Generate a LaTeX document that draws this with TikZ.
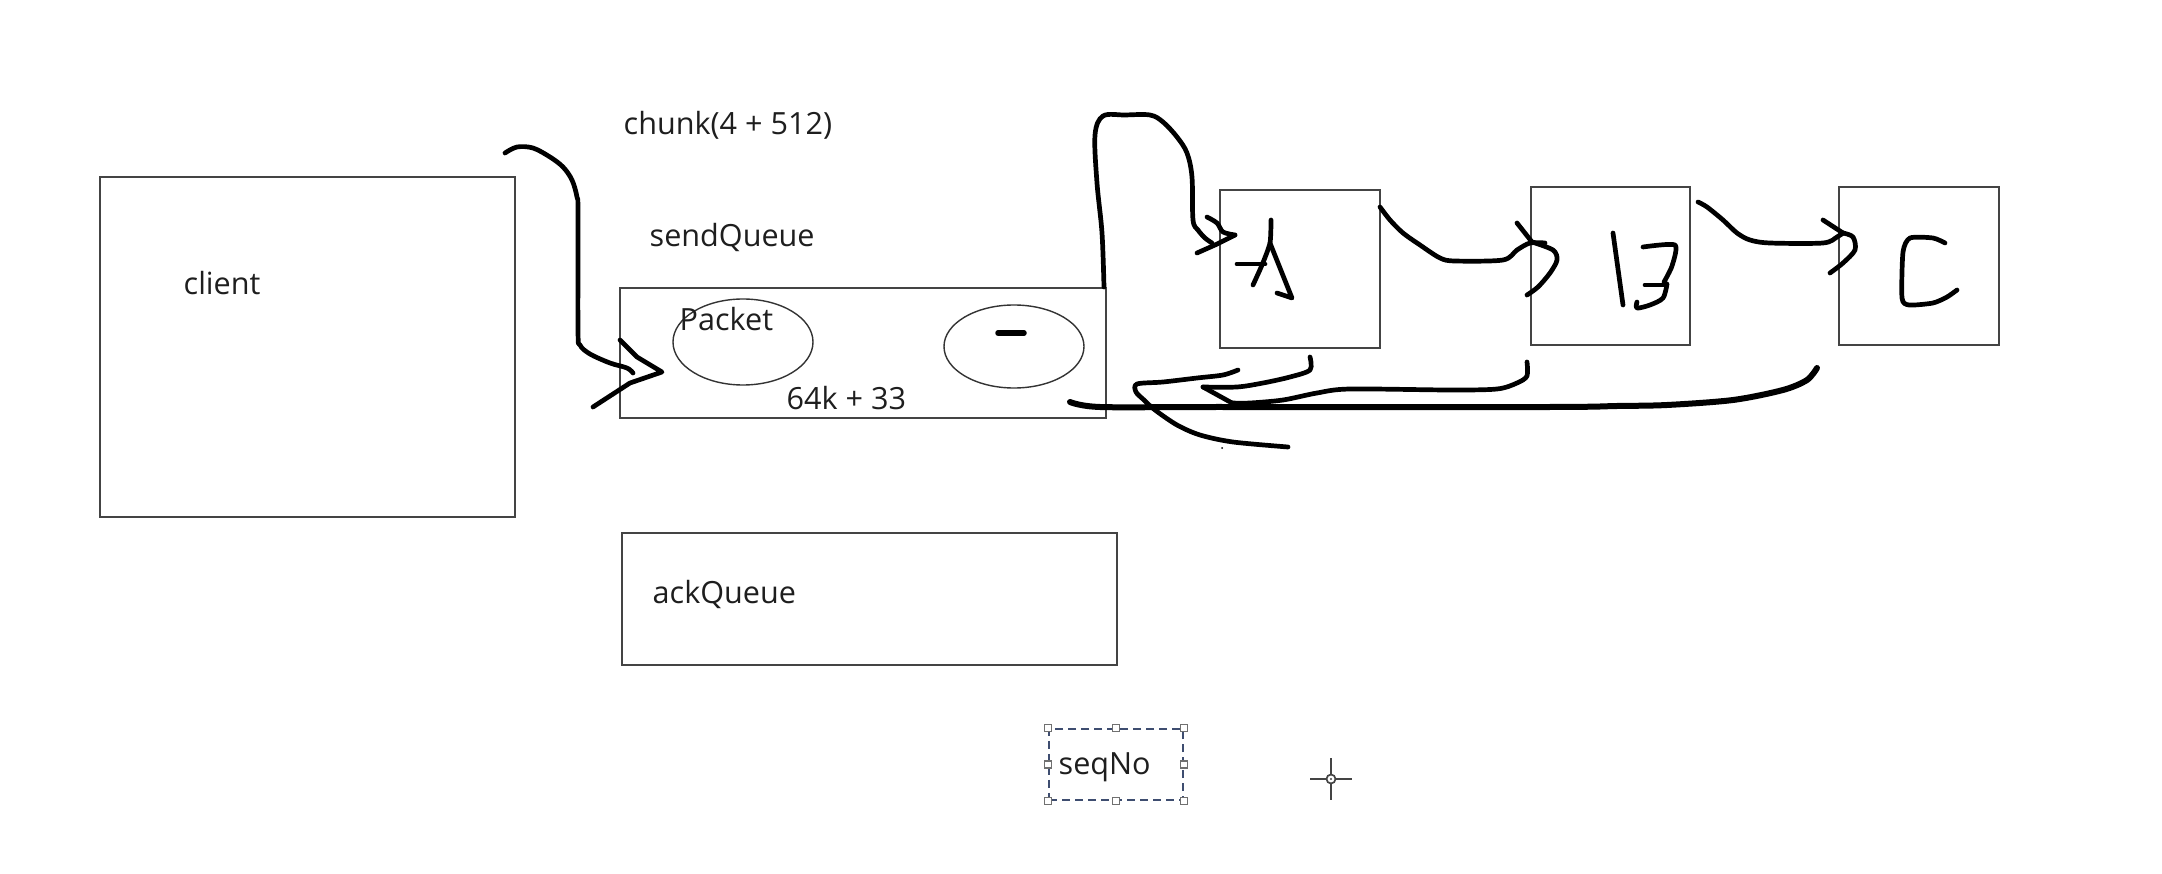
\documentclass[tikz,border=0pt]{standalone}
\usepackage{fontspec}
\setmainfont{Open Sans}
\usetikzlibrary{shapes.geometric}
\definecolor{boxline}{HTML}{444444}
\definecolor{txt}{HTML}{1E1E1E}
\definecolor{selblue}{HTML}{3E4D70}
\definecolor{handlegray}{HTML}{707070}
\tikzset{
  px/.style={x=0.1mm,y=-0.1mm},
  plainbox/.style={draw=boxline,line width=0.2mm,rectangle,inner sep=0pt},
  pktell/.style={draw=black!80,line width=0.14mm,ellipse,inner sep=0pt},
  lbl/.style={anchor=base west,inner sep=0pt,text=txt,font=\fontsize{8.7pt}{10pt}\selectfont},
  hand/.style={line width=0.47mm,line cap=round,line join=round,black},
  handthick/.style={line width=0.6mm,line cap=round,line join=round,black},
  selbox/.style={draw=selblue,line width=0.15mm,dash pattern=on 0.8mm off 0.5mm,rectangle,inner sep=0pt},
  handlesq/.style={draw=handlegray,fill=white,line width=0.12mm,rectangle,minimum size=0.7mm,inner sep=0pt},
}
\begin{document}
\begin{tikzpicture}[px]
\useasboundingbox (0,0) rectangle (2162,874);
\fill[white] (0,0) rectangle (2162,874);

% boxes
\node[plainbox,minimum width=41.5mm,minimum height=34mm] (client) at (307.5,347) {};
\node[plainbox,minimum width=48.6mm,minimum height=13mm] (sendq) at (863,353) {};
\node[plainbox,minimum width=49.5mm,minimum height=13.2mm] (ackq) at (869.5,599) {};
\node[plainbox,minimum width=16mm,minimum height=15.8mm] (boxA) at (1300,269) {};
\node[plainbox,minimum width=15.9mm,minimum height=15.8mm] (boxB) at (1610.5,266) {};
\node[plainbox,minimum width=16mm,minimum height=15.8mm] (boxC) at (1919,266) {};
\node[pktell,minimum width=14mm,minimum height=8.6mm] (pkt1) at (743,342) {};
\node[pktell,minimum width=14mm,minimum height=8.3mm] (pkt2) at (1014,346.5) {};

% texts
\node[lbl] (tclient) at (183,295) {client};
\node[lbl] (tchunk) at (623,135) {chunk(4 + 512)};
\node[lbl] (tsend) at (649,247) {sendQueue};
\node[lbl] (tpacket) at (679,330) {Packet};
\node[lbl] (tsize) at (786,410) {64k + 33};
\node[lbl] (tack) at (652,603) {ackQueue};

% selected text box seqNo
\node[selbox,minimum width=13.4mm,minimum height=7.1mm] (seqbox) at (1116,764.5) {};
\node[lbl] (tseq) at (1058,774) {seqNo};
\foreach \a in {north west,north,north east,west,east,south west,south,south east}
  \node[handlesq] at (seqbox.\a) {};

% crosshair cursor
\coordinate (cross) at (1331,779);
\draw[boxline,line width=0.17mm] ([xshift=-2.1mm]cross) -- ([xshift=-0.45mm]cross)
  ([xshift=0.45mm]cross) -- ([xshift=2.1mm]cross)
  ([yshift=2.1mm]cross) -- ([yshift=0.45mm]cross)
  ([yshift=-0.45mm]cross) -- ([yshift=-2.1mm]cross);
\draw[boxline,line width=0.17mm] (cross) circle[radius=0.45mm];
\fill[boxline] (cross) circle[radius=0.12mm];

% dash inside second packet
\draw[line width=0.55mm,line cap=round] (998,333) -- (1024,333);

% hand-drawn input arrow into sendQueue
\coordinate (inStart) at (505,153);
\coordinate (inEnd) at (633,373);
\coordinate (inTip) at (662,372);
\draw[hand] plot[smooth,tension=0.55] coordinates {(inStart) (517,147) (533,148) (550,157) (563,167) (572,180) (577,197) (578,213) (578,330) (580,345) (590,354) (610,363) (627,368) (inEnd)};
\draw[hand] (620,340) -- (637,357) -- (inTip) -- (630,383) -- (593,407);

% sendQueue -> A
\coordinate (sA) at ([xshift=-0.3mm]sendq.north east);
\coordinate (tipA) at (1235,235);
\draw[hand] plot[smooth,tension=0.55] coordinates {(sA) (1102,233) (1097,183) (1095,135) (1103,116) (1125,115) (1150,115) (1163,122) (1177,137) (1187,153) (1192,177) (1193,220) (1198,230) (1205,238) (1212,243)};
\draw[hand] plot[smooth,tension=0.5] coordinates {(1207,217) (1217,223) (1223,232) (tipA)};
\draw[hand] (tipA) -- (1215,245) -- (1197,253);

% letter A
\draw[hand] plot[smooth,tension=0.4] coordinates {(1271,220) (1270,243) (1262,265) (1253,285)};
\draw[hand] (1270,243) -- (1292,298) -- (1277,293);
\draw[hand] (1237,264) -- (1265,264);

% A -> B
\coordinate (sAB) at (1380,207);
\coordinate (tipB) at (1532,242);
\draw[hand] plot[smooth,tension=0.5] coordinates {(sAB) (1390,220) (1403,233) (1420,245) (1440,258) (1455,261) (1503,260) (1517,250) (1530,243) (1545,243)};
\draw[hand] (1517,223) -- (tipB);
\draw[hand] plot[smooth,tension=0.5] coordinates {(tipB) (1553,250) (1557,260) (1550,273) (1538,287) (1527,295)};

% letters 13
\draw[hand] (1613,233) -- (1623,305);
\draw[hand] plot[smooth,tension=0.4] coordinates {(1643,247) (1675,245) (1672,266) (1664,282)};
\draw[hand] (1645,285) -- (1665,285);
\draw[hand] plot[smooth,tension=0.5] coordinates {(1667,284) (1663,298) (1650,305) (1637,308) (1637,302)};

% B -> C
\coordinate (sBC) at (1698,202);
\coordinate (tipC) at (1843,233);
\draw[hand] plot[smooth,tension=0.5] coordinates {(sBC) (1707,207) (1723,220) (1737,233) (1750,240) (1770,243) (1823,243) (1837,237) (tipC)};
\draw[hand] (1823,220) -- (tipC);
\draw[hand] plot[smooth,tension=0.5] coordinates {(tipC) (1853,237) (1855,250) (1843,263) (1830,273)};

% letter C
\draw[hand] plot[smooth,tension=0.4] coordinates {(1945,243) (1933,238) (1910,238) (1903,252) (1902,298) (1909,305) (1933,303) (1947,297) (1957,290)};

% return strokes
\coordinate (rA) at (1310,357);
\coordinate (rB) at (1527,362);
\coordinate (rC) at (1817,368);
\coordinate (rTip) at (1203,387);
\coordinate (rEnd) at (1070,402);
\draw[hand] plot[smooth,tension=0.5] coordinates {(rA) (1310,370) (1290,377) (1263,383) (1237,387) (rTip)};
\draw[hand] plot[smooth,tension=0.5] coordinates {(rB) (1527,376) (1517,383) (1497,389) (1450,390) (1350,389) (1317,393) (1283,400) (1250,403) (1232,403)};
\draw[hand] (1232,403) -- (rTip);
\draw[handthick] plot[smooth,tension=0.5] coordinates {(rC) (1807,380) (1783,390) (1733,400) (1667,405) (1617,406) (1550,407) (1217,407) (1100,407) (rEnd)};
\draw[hand] plot[smooth,tension=0.5] coordinates {(1238,370) (1223,375) (1197,378) (1163,382) (1137,384) (1136,392) (1144,400) (1155,410) (1177,425) (1200,435) (1233,442) (1288,447)};
\fill (1222,448) circle[radius=0.1mm];
\end{tikzpicture}
\end{document}
